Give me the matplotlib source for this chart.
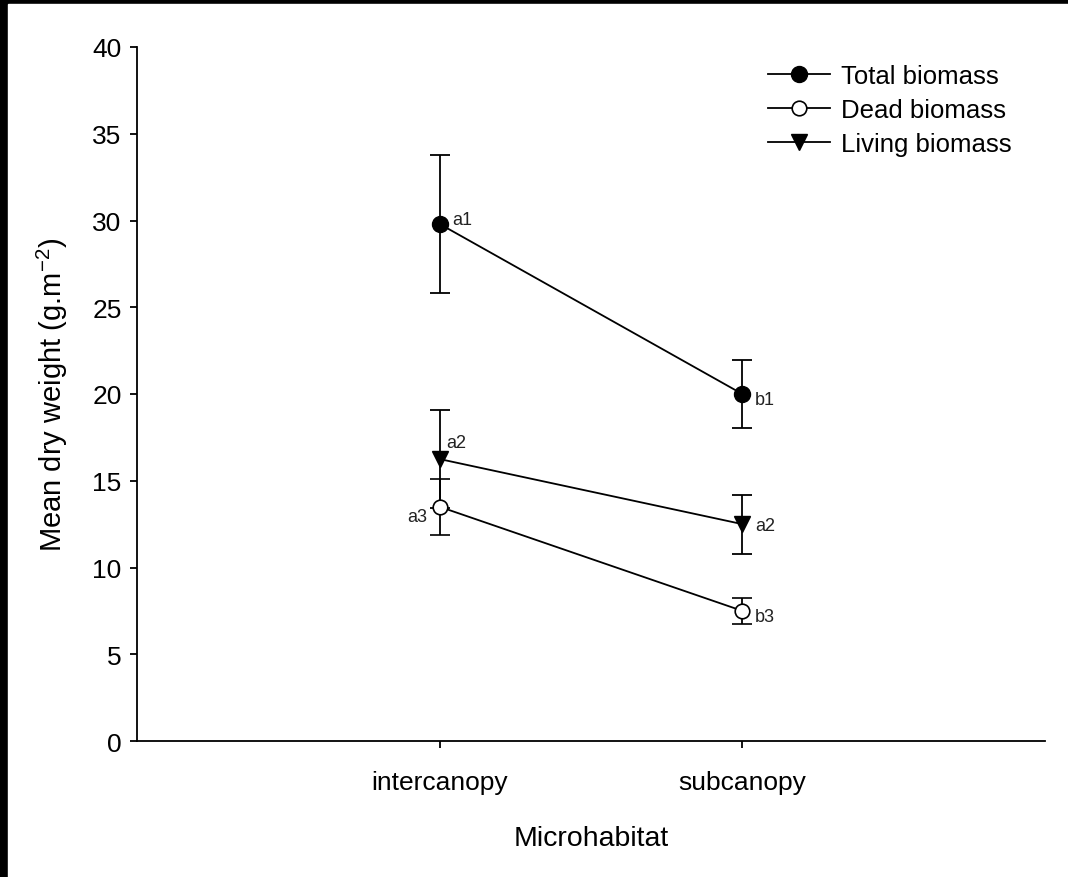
import matplotlib
matplotlib.use("Agg")
import matplotlib.pyplot as plt
from matplotlib.patches import Rectangle
from matplotlib.lines import Line2D

plt.rcParams['font.family'] = ['Liberation Sans', 'DejaVu Sans']
plt.rcParams['mathtext.fontset'] = 'custom'
plt.rcParams['mathtext.rm'] = 'Liberation Sans'
plt.rcParams['mathtext.it'] = 'Liberation Sans'

# data
habitats = ['intercanopy', 'subcanopy']
total = [29.8, 20.0]
total_se = [4.0, 1.95]
dead = [13.5, 7.5]
dead_se = [1.6, 0.75]
living = [16.25, 12.5]
living_se = [2.8, 1.7]
letters_total = ['a1', 'b1']
letters_dead = ['a3', 'b3']
letters_living = ['a2', 'a2']

fig = plt.figure(figsize=(10.68, 8.78), dpi=100)
fig.patch.set_facecolor('black')
fig.add_artist(Rectangle((8 / 1068, 0), 1 - 8 / 1068, 1 - 5 / 878,
                         transform=fig.transFigure, color='white', zorder=-5))
ax = fig.add_axes([137 / 1068, 1 - 742 / 878, (1045 - 137) / 1068, (742 - 48) / 878])
ax.set_facecolor('white')

x = [1, 2]
ekw = dict(color='black', lw=1.3, capsize=7.5, capthick=1.3, elinewidth=1.3)
styles = [dict(marker='o', ms=11.5, mfc='black', mec='black'),
          dict(marker='o', ms=10.5, mfc='white', mec='black', mew=1.2),
          dict(marker='v', ms=11, mfc='black', mec='black')]
ax.errorbar(x, total, yerr=total_se, **styles[0], **ekw)
ax.errorbar(x, dead, yerr=dead_se, **styles[1], **ekw)
ax.errorbar(x, living, yerr=living_se, **styles[2], **ekw)

fs = 13
for i in range(2):
    ax.annotate(letters_total[i], (x[i], total[i]), xytext=(9, 3 if i == 0 else -4),
                textcoords='offset points', fontsize=fs, color='#222222', va='center')
    ax.annotate(letters_living[i], (x[i], living[i]), xytext=(5, 12) if i == 0 else (9, -1),
                textcoords='offset points', fontsize=fs, color='#222222', va='center')
ax.annotate(letters_dead[0], (x[0], dead[0]), xytext=(-9, -7), textcoords='offset points',
            fontsize=fs, color='#222222', va='center', ha='right')
ax.annotate(letters_dead[1], (x[1], dead[1]), xytext=(9, -4), textcoords='offset points',
            fontsize=fs, color='#222222', va='center')

ax.set_xlim(0, 3)
ax.set_ylim(0, 40)
ax.set_yticks(range(0, 41, 5))
ax.set_xticks(x)
ax.set_xticklabels(habitats)
ax.spines['top'].set_visible(False)
ax.spines['right'].set_visible(False)
ax.spines['left'].set_linewidth(1.3)
ax.spines['bottom'].set_linewidth(1.3)
ax.tick_params(direction='out', length=5, width=1.3, labelsize=19, pad=6)
ax.tick_params(axis='x', pad=16)

ax.set_xlabel('Microhabitat', fontsize=20.5, labelpad=22)
ax.set_ylabel(r'Mean dry weight (g.m$^{-2}$)', fontsize=21, labelpad=16)

names = ['Total biomass', 'Dead biomass', 'Living biomass']
handles = [Line2D([], [], color='black', lw=1.3, **s) for s in styles]
ax.legend(handles, names, loc='upper left', bbox_to_anchor=(0.695, 0.975), frameon=False,
          fontsize=18.5, handlelength=2.4, handletextpad=0.45, labelspacing=0.38,
          borderaxespad=0, borderpad=0)

fig.savefig('out.png', dpi=100)
